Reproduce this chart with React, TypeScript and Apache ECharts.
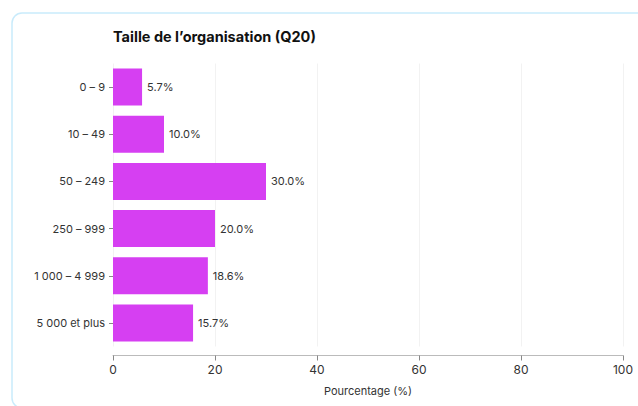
import React, { useEffect, useRef } from "react";
import * as echarts from "echarts";

const categories = ["0 – 9", "10 – 49", "50 – 249", "250 – 999", "1 000 – 4 999", "5 000 et plus"];
const values = [5.7, 10.0, 30.0, 20.0, 18.6, 15.7];
const title = "Taille de l’organisation (Q20)";
const xName = "Pourcentage (%)";

export default function App() {
  const ref = useRef<HTMLDivElement>(null);
  useEffect(() => {
    const chart = echarts.init(ref.current!, null, { renderer: "svg" });
    chart.setOption({
      animation: false,
      textStyle: { fontFamily: "Inter" },
      graphic: [
        {
          type: "rect",
          shape: { x: 12, y: 13, width: 700, height: 395, r: 10 },
          style: { fill: "#fff", stroke: "#c9ebfb", lineWidth: 1.5 },
          z: -10,
          silent: true,
        },
        {
          type: "text",
          left: 113,
          top: 29,
          style: { text: title, font: "bold 14.5px Inter", fill: "#111" },
        },
      ],
      grid: { left: 113, right: 15, top: 63.5, bottom: 59.5 },
      xAxis: {
        type: "value",
        min: 0,
        max: 100,
        interval: 20,
        offset: 9,
        name: xName,
        nameLocation: "middle",
        nameGap: 30,
        nameTextStyle: { fontSize: 11, color: "#333", fontFamily: "Inter" },
        axisLine: { show: true, lineStyle: { color: "#bbb" } },
        axisTick: { show: true, length: 5, lineStyle: { color: "#888" } },
        axisLabel: { fontSize: 12, color: "#333", margin: 8, fontFamily: "Inter" },
        splitLine: { show: true, lineStyle: { color: "#f2f2f2" } },
      },
      yAxis: {
        type: "category",
        data: categories,
        inverse: true,
        axisLine: { show: false },
        axisTick: { show: true, length: 4, alignWithLabel: true, lineStyle: { color: "#888" } },
        axisLabel: { fontSize: 11, color: "#333", margin: 8, fontFamily: "Inter" },
      },
      series: [
        {
          type: "bar",
          data: values,
          barWidth: 37,
          itemStyle: { color: "#d63ff2" },
          label: {
            show: true,
            position: "right",
            distance: 5,
            fontSize: 11,
            color: "#333",
            fontFamily: "Inter",
            formatter: (p: any) => p.value.toFixed(1) + "%",
          },
        },
      ],
    });
    return () => chart.dispose();
  }, []);
  return (
    <div style={{ position: "fixed", left: 0, top: 0, width: 638, height: 406, background: "#fff" }}>
      <div ref={ref} style={{ width: 638, height: 406 }} />
    </div>
  );
}
